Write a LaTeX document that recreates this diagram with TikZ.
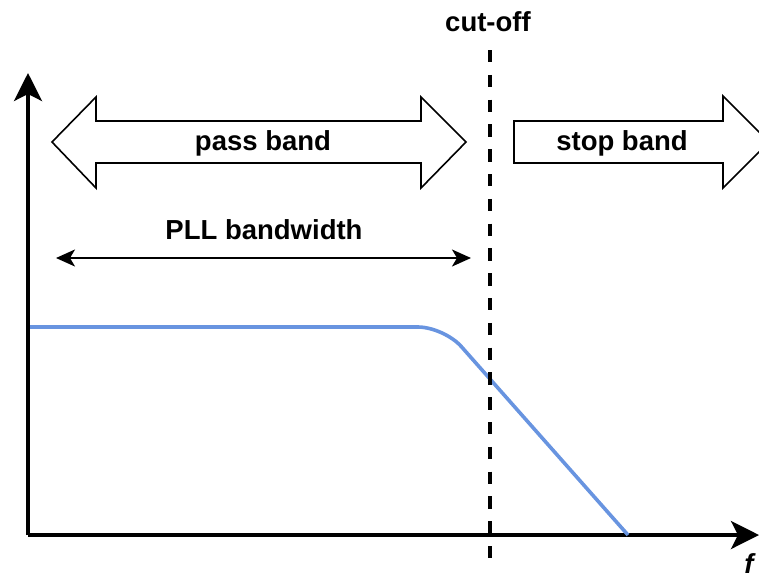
\documentclass[tikz,border=0pt]{standalone}
\usepackage{fontspec}
\setmainfont{Liberation Sans}
\usetikzlibrary{arrows.meta}
\definecolor{respblue}{RGB}{104,148,224}
\begin{document}
\begin{tikzpicture}[x=1pt,y=-1pt,
  axis/.style={line width=3.6pt,-{Stealth[length=28pt,width=28pt,inset=7pt]}},
  bandarrow/.style={draw=black,line width=1.6pt,fill=white,line join=miter},
  label/.style={font=\fontsize{27.5}{32}\selectfont\bfseries,inner sep=0pt},
  spanarrow/.style={line width=1.8pt,{Stealth[length=19pt,width=17pt,inset=5pt]}-{Stealth[length=19pt,width=17pt,inset=5pt]}},
  cutline/.style={line width=4.6pt,dash pattern=on 12.4pt off 12.4pt},
  response/.style={draw=respblue,line width=3.6pt,rounded corners=26pt}]
\clip (0,0) rectangle (759,574);
\useasboundingbox (0,0) rectangle (759,574);

% axes
\coordinate (o) at (28,535);
\coordinate (ytip) at (28,73);
\coordinate (xtip) at (759,535);
\draw[axis] (o) -- (ytip);
\draw[axis] (o) -- (xtip);
\node[label,font=\fontsize{27.5}{32}\selectfont\bfseries\itshape] (f) at (749,564) {f};

% low-pass response
\coordinate (r0) at (30,327);
\coordinate (rk) at (444,327);
\coordinate (r1) at (628,535);
\draw[response] (r0) -- (rk) -- (r1);

% cut-off frequency
\coordinate (c0) at (490,50);
\coordinate (c1) at (490,560);
\draw[cutline] (c0) -- (c1);
\node[label] (cut) at (488,22) {cut-off};

% pass band (double arrow)
\draw[bandarrow] (52,142) -- (96,97) -- (96,121) -- (421,121) -- (421,97)
  -- (466,142) -- (421,188) -- (421,163) -- (96,163) -- (96,188) -- cycle;
\node[label] (pass) at (263,143) {pass band};

% stop band (single arrow)
\draw[bandarrow] (514,121) -- (723,121) -- (723,96) -- (769,142) -- (723,188)
  -- (723,163) -- (514,163) -- cycle;
\node[label] (stop) at (622,143) {stop band};

% loop bandwidth
\node[label] (pll) at (264,230) {PLL bandwidth};
\coordinate (b0) at (56,258);
\coordinate (b1) at (471,258);
\draw[spanarrow] (b0) -- (b1);
\end{tikzpicture}
\end{document}
